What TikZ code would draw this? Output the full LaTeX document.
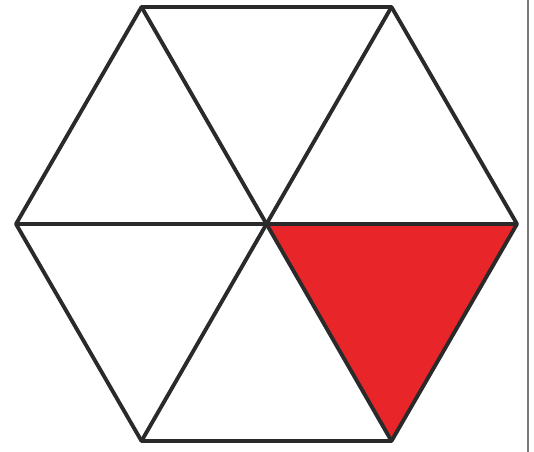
\documentclass[tikz,border=0pt]{standalone}
\usepackage{xcolor}
\usepackage{tikz}
\definecolor{hexred}{HTML}{E8262A}
\definecolor{hexedge}{HTML}{2A2A2A}
\definecolor{rulegray}{HTML}{7A7A7A}
\tikzset{
  hexline/.style={draw=hexedge, line width=2.2pt, line join=round},
  redpart/.style={fill=hexred, draw=hexred!60!black, line width=1.2pt, line join=round},
}

\begin{document}
\begin{tikzpicture}[x=0.02cm, y=-0.02cm]
  \useasboundingbox (0,0) rectangle (534,452);
  % hexagon corners and centre
  \coordinate (c)  at (266.5,224);
  \coordinate (r)  at (517,224);
  \coordinate (tr) at (391.5,7);
  \coordinate (tl) at (141.5,7);
  \coordinate (l)  at (16,224);
  \coordinate (bl) at (141.5,441);
  \coordinate (br) at (391.5,441);
  % the coloured sixth
  \fill[redpart] (c) -- (r) -- (br) -- cycle;
  \draw[hexline] (r) -- (tr) -- (tl) -- (l) -- (bl) -- (br) -- cycle;
  \draw[hexline] (l) -- (r);
  \draw[hexline] (tl) -- (br);
  \draw[hexline] (tr) -- (bl);
  % edge of the page
  \coordinate (ruletop) at (528,0);
  \coordinate (rulebot) at (528,452);
  \draw[rulegray, line width=1pt] (ruletop) -- (rulebot);
\end{tikzpicture}
\end{document}
